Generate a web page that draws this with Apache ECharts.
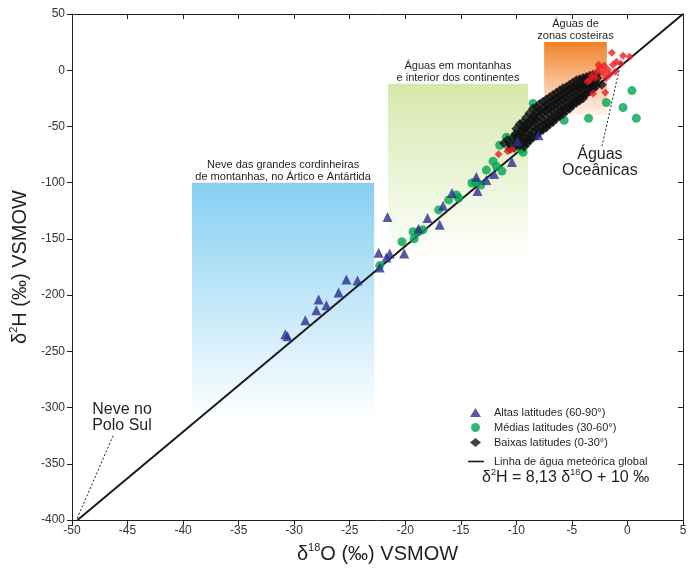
<!DOCTYPE html>
<html><head><meta charset="utf-8">
<script src="https://cdn.jsdelivr.net/npm/echarts@6/dist/echarts.min.js"></script>
<style>html,body{margin:0;padding:0;background:#fff}#c{width:694px;height:569px}</style>
</head><body><div id="c"></div>
<script>
// ---- data ----
const xMin = -50, xMax = 5, xStep = 5;
const yMin = -400, yMax = 50, yStep = 50;

const highLatName = 'Altas latitudes (60-90°)';
const midLatName = 'Médias latitudes (30-60°)';
const lowLatName = 'Baixas latitudes (0-30°)';
const lineName = 'Linha de água meteórica global';

const highLat = [[-30.8,-234.7],[-30.6,-236.5],[-29.0,-222.3],[-28.0,-213.5],[-27.8,-203.8],[-27.1,-209],[-26.0,-197.6],[-25.3,-186],[-24.3,-187],[-22.4,-162.2],[-21.4,-163],[-21.7,-166.6],[-22.3,-175.5],[-21.6,-130.4],[-20.1,-163],[-15.8,-109.1],[-16.6,-120.6],[-18.0,-131.3],[-16.9,-137.4],[-18.8,-141],[-13.6,-95],[-13.5,-107.4],[-12.7,-97.7],[-12.0,-92.3],[-10.4,-81.7],[-9.9,-63.2],[-8.0,-57.9]];

const midLat = [[-22.3,-173.7],[-20.3,-152.5],[-19.3,-143.6],[-19.2,-149.8],[-18.4,-141.9],[-17.0,-124.2],[-16.1,-115.3],[-15.2,-113.6],[-15.4,-110.9],[-14.0,-100.3],[-13.2,-102],[-13.7,-99.4],[-12.7,-88.8],[-12.1,-80.9],[-11.8,-85.3],[-11.3,-89.7],[-11.5,-66.7],[-10.9,-59.6],[-10.1,-57.9],[-10.0,-66.7],[-9.4,-72.9],[-9.6,-70.2],[-9.5,-50.8],[-8.5,-29.6],[-8.4,-41.1],[-5.7,-44.6],[-3.5,-42.8],[-1.9,-28.7],[-0.4,-33.1],[0.4,-18.1],[0.8,-42.8],[-10.6,-65],[-18.8,-143.5]];

const lowLat = [[-11.1,-65],[-10.8,-62],[-10.5,-67],[-10.3,-60],[-10.6,-70],
[-10.0,-52],[-10.1,-57],[-9.9,-61],[-10.0,-65],[-10.2,-69],
[-9.7,-48],[-9.6,-54],[-9.8,-58],[-9.6,-62],[-9.7,-67],
[-9.4,-46],[-9.3,-51],[-9.5,-55],[-9.3,-59],[-9.4,-64],[-9.3,-68],
[-9.1,-42],[-9.0,-47],[-9.2,-52],[-9.0,-57],[-9.1,-61],[-9.0,-65],
[-8.8,-38],[-8.7,-44],[-8.9,-49],[-8.8,-53],[-8.7,-58],[-8.8,-62],
[-8.5,-34],[-8.4,-40],[-8.6,-45],[-8.5,-50],[-8.4,-55],[-8.5,-60],
[-8.2,-33],[-8.1,-37],[-8.3,-43],[-8.2,-48],[-8.1,-53],[-8.2,-58],
[-7.9,-30],[-7.8,-36],[-8.0,-41],[-7.9,-46],[-7.8,-51],[-7.9,-55],
[-7.6,-28],[-7.5,-33],[-7.7,-38],[-7.6,-44],[-7.5,-49],[-7.6,-53],
[-7.3,-26],[-7.2,-31],[-7.4,-36],[-7.3,-42],[-7.2,-47],[-7.3,-51],
[-7.0,-24],[-6.9,-29],[-7.1,-34],[-7.0,-39],[-6.9,-44],[-7.0,-48],
[-6.7,-22],[-6.6,-27],[-6.8,-32],[-6.7,-37],[-6.6,-42],[-6.7,-46],
[-6.4,-20],[-6.3,-25],[-6.5,-30],[-6.4,-35],[-6.3,-40],[-6.4,-43],
[-6.1,-18],[-6.0,-23],[-6.2,-28],[-6.1,-33],[-6.0,-37],[-6.1,-41],
[-5.8,-16],[-5.7,-21],[-5.9,-26],[-5.8,-31],[-5.7,-35],[-5.8,-39],
[-5.5,-15],[-5.4,-19],[-5.6,-24],[-5.5,-29],[-5.4,-33],[-5.5,-36],
[-5.2,-13],[-5.1,-17],[-5.3,-22],[-5.2,-27],[-5.1,-31],[-5.2,-34],
[-4.9,-11],[-4.8,-15],[-5.0,-20],[-4.9,-25],[-4.8,-28],[-4.9,-31],
[-4.6,-9],[-4.5,-14],[-4.7,-18],[-4.6,-23],[-4.5,-26],[-4.6,-29],
[-4.3,-8],[-4.2,-12],[-4.4,-16],[-4.3,-21],[-4.2,-24],[-4.3,-27],
[-4.0,-7],[-3.9,-10],[-4.1,-14],[-4.0,-19],[-3.9,-22],[-4.0,-25],
[-3.7,-6],[-3.6,-9],[-3.8,-13],[-3.7,-17],[-3.7,-21],
[-3.4,-5],[-3.3,-8],[-3.5,-12],[-3.4,-15],[-3.4,-19],
[-3.1,-4],[-3.0,-7],[-3.2,-11],[-3.1,-14],[-3.1,-17],
[-2.8,-4],[-2.7,-7],[-2.9,-10],[-2.8,-14],[-2.3,-12.8]];

const coastal = [[-1.4,15.5],[-0.4,12.9],[0.2,12],[-0.6,5.8],[-2.5,2.3],[-2.75,-1.3],[-2.2,-2.2],[-1.75,0.5],[-1.3,4.9],[-1.6,-3.9],[-1.9,-6.6],[-1.1,-1.3],[-3.1,-20.7],[-2.0,-19.8],[-2.6,4.9],[-3.4,-9],[-2.9,-6.6],[-3.6,-10.1],[-3.2,-4.8],[-1.0,7.6],[-2.1,4.0],[-11.6,-74.7],[-10.8,-72],[-10.4,-70.2]];

const gmwl = [[-49.5,-400],[5,50]];

// annotated regions: [x0, x1, yTop, yBottom]
const snowBox = [-39.2, -22.8, -100, -310];
const mountainBox = [-21.55, -8.96, -12, -170];
const coastBox = [-7.5, -1.85, 25, -40];
const snowText = 'Neve das grandes cordinheiras\nde montanhas, no Ártico e Antártida';
const mountainText = 'Águas em montanhas\ne interior dos continentes';
const coastText = 'Águas de\nzonas costeiras';
const oceanLabel = {text: 'Águas\nOceânicas', at: [-2.48, -81.7], from: [-2.3, -67.6], to: [-0.6, 6.7]};
const poleLabel = {text: 'Neve no\nPolo Sul', at: [-45.5, -309], from: [-46.3, -325], to: [-49.6, -400]};

// ---- chart ----
const FF = '"Liberation Sans", Arial, Helvetica, sans-serif';
const chart = echarts.init(document.getElementById('c'));
function grad(c0, c1) {
  return new echarts.graphic.LinearGradient(0, 0, 0, 1, [{offset: 0, color: c0}, {offset: 1, color: c1}]);
}
function area(box, text, c0, c1) {
  return [{xAxis: box[0], yAxis: box[2], itemStyle: {color: grad(c0, c1)},
           label: {show: true, position: 'top', distance: 0, formatter: text, fontSize: 11, lineHeight: 12, color: '#231f20', fontFamily: FF}},
          {xAxis: box[1], yAxis: box[3]}];
}
function note(n) {
  return {coord: n.at, value: 0, symbol: 'rect', symbolSize: 1, itemStyle: {color: 'rgba(0,0,0,0)'},
          label: {show: true, position: 'inside', formatter: n.text, fontSize: 16, lineHeight: 16, color: '#231f20', fontFamily: FF}};
}
const axisNameRich = {
  a: {fontSize: 20, fontFamily: FF, color: '#231f20', lineHeight: 22, verticalAlign: 'bottom'},
  s: {fontSize: 11, fontFamily: FF, color: '#231f20', lineHeight: 22, verticalAlign: 'top'}
};
const axLine = {onZero: false, lineStyle: {color: '#231f20', width: 1}};
const option = {
  backgroundColor: '#fff',
  animation: false,
  grid: {left: 72, right: 11, top: 14, bottom: 45, containLabel: false},
  xAxis: [{
    type: 'value', min: xMin, max: xMax, interval: xStep, position: 'bottom',
    axisLine: axLine,
    axisTick: {inside: false, length: 5, lineStyle: {color: '#231f20'}},
    axisLabel: {fontSize: 12, color: '#333', fontFamily: FF, margin: 5},
    splitLine: {show: false},
    name: '{a|δ}{s|18}{a|O (‰) VSMOW}', nameLocation: 'middle', nameGap: 16,
    nameTextStyle: {rich: axisNameRich}
  }, {
    type: 'value', min: xMin, max: xMax, interval: xStep, position: 'top',
    axisLine: axLine,
    axisTick: {inside: true, length: 5, lineStyle: {color: '#231f20'}},
    axisLabel: {show: false}, splitLine: {show: false}
  }],
  yAxis: [{
    type: 'value', min: yMin, max: yMax, interval: yStep, position: 'left',
    axisLine: axLine,
    axisTick: {inside: false, length: 5, lineStyle: {color: '#231f20'}},
    axisLabel: {fontSize: 12, color: '#333', fontFamily: FF, margin: 7},
    splitLine: {show: false},
    name: '{a|δ}{s|2}{a|H (‰) VSMOW}', nameLocation: 'middle', nameGap: 38,
    nameTextStyle: {rich: axisNameRich}
  }, {
    type: 'value', min: yMin, max: yMax, interval: yStep, position: 'right',
    axisLine: axLine,
    axisTick: {inside: true, length: 5, lineStyle: {color: '#231f20'}},
    axisLabel: {show: false}, splitLine: {show: false}
  }],
  legend: [{
    orient: 'vertical', left: 465, top: 402, itemWidth: 11, itemHeight: 9, itemGap: 4,
    textStyle: {fontSize: 11, color: '#231f20', fontFamily: FF, padding: [0, 0, 0, 8]},
    data: [{name: highLatName, icon: 'triangle'}, {name: midLatName, icon: 'circle'},
           {name: lowLatName, icon: 'diamond'}]
  }, {
    orient: 'vertical', left: 463, top: 451, itemWidth: 16, itemHeight: 9,
    textStyle: {fontSize: 11, color: '#231f20', fontFamily: FF, padding: [0, 0, 0, 5]},
    data: [{name: lineName, icon: 'path://M0,0 h16 v1.6 h-16 Z', itemStyle: {color: '#1a1a1a'}}]
  }],
  graphic: [{
    type: 'text', left: 482, top: 468,
    style: {rich: {
      a: {fontSize: 16, fontFamily: FF, fill: '#231f20', lineHeight: 18, verticalAlign: 'bottom'},
      s: {fontSize: 9, fontFamily: FF, fill: '#231f20', lineHeight: 18, verticalAlign: 'top'}},
      text: '{a|δ}{s|2}{a|H = 8,13 δ}{s|18}{a|O + 10 ‰}'}
  }],
  series: [{
    type: 'scatter', name: '_annot', data: [], silent: true, z: 1,
    markArea: {silent: true, data: [
      area(snowBox, snowText, '#86cff2', '#ffffff'),
      area(mountainBox, mountainText, '#d6e8ab', '#ffffff'),
      area(coastBox, coastText, '#f0822a', '#fff3ea')
    ]},
    markLine: {silent: true, symbol: ['none', 'none'], label: {show: false},
      lineStyle: {type: [2, 2], color: '#231f20', width: 1},
      data: [[{coord: oceanLabel.from}, {coord: oceanLabel.to}], [{coord: poleLabel.from}, {coord: poleLabel.to}]]},
    markPoint: {silent: true, data: [note(oceanLabel), note(poleLabel)]}
  }, {
    type: 'line', name: lineName, data: gmwl, symbol: 'none', z: 2,
    lineStyle: {color: '#1a1a1a', width: 2}, itemStyle: {color: '#1a1a1a'}
  }, {
    type: 'scatter', name: midLatName, data: midLat, symbol: 'circle', symbolSize: 9, z: 3,
    itemStyle: {color: '#00a551'}
  }, {
    type: 'scatter', name: lowLatName, data: lowLat, symbol: 'diamond', symbolSize: 10, z: 3,
    itemStyle: {color: '#111111'}
  }, {
    type: 'scatter', name: highLatName, data: highLat, symbol: 'triangle', symbolSize: 10, z: 4,
    itemStyle: {color: '#2b3090'}
  }, {
    type: 'scatter', name: 'coastal', data: coastal, symbol: 'diamond', symbolSize: 8, z: 4,
    itemStyle: {color: '#ed1c24'}
  }]
};
chart.setOption(option);
</script></body></html>
